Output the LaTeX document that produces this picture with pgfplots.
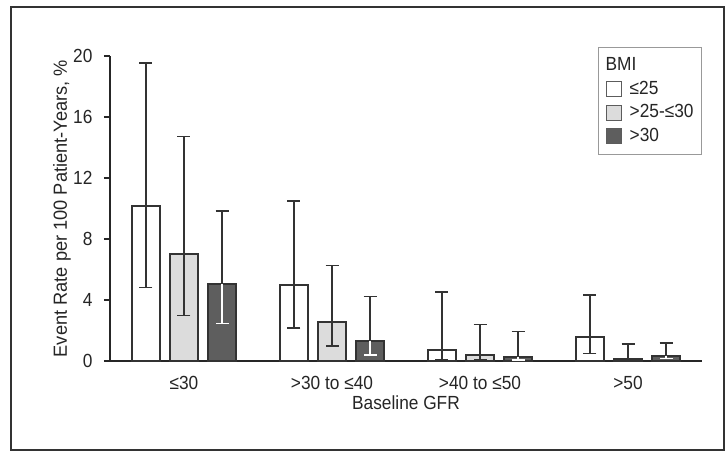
\documentclass[border=0pt]{standalone}
\usepackage{pgfplots}
\pgfplotsset{compat=1.18}
\usepackage{pgfplotstable}
\usepackage{fontspec}
\setmainfont{Liberation Sans}[FakeStretch=0.91]
\newfontfamily\ylabfont{Liberation Sans}[FakeStretch=0.96]
\definecolor{edge}{HTML}{333333}
\definecolor{lightbar}{HTML}{DCDCDC}
\definecolor{darkbar}{HTML}{5E5E5E}
\definecolor{txt}{HTML}{252525}
\definecolor{legframe}{HTML}{999999}

\pgfplotstableread{
x y ep em
-0.257 10.18 9.36 5.37
0.743 4.98 5.51 2.82
1.743 0.74 3.80 0.69
2.743 1.59 2.74 1.09
}\tabA
\pgfplotstableread{
x y ep em
0 7.00 7.71 4.03
1 2.54 3.71 1.54
2 0.37 2.03 0.32
3 0.15 0.96 0.12
}\tabB
\pgfplotstableread{
x y ep em
0.257 5.03 4.81 2.56
1.257 1.33 2.89 0.92
2.257 0.28 1.64 0.23
3.257 0.35 0.83 0.18
}\tabC

\pgfplotsset{
  mybar/.style={ybar, bar width=28pt, bar shift=0pt, draw=edge, line width=2pt,
    legend image code/.code={\draw[##1, line width=1pt, draw=edge!80] (0pt,-7.5pt) rectangle (15pt,7.5pt);}},
}

\begin{document}
\fontsize{19}{22}\selectfont
\begin{tikzpicture}
\useasboundingbox (-110pt,-90pt) rectangle (616pt,361pt);
\draw[line width=2pt, draw=black!80] (-99pt,-89pt) rectangle (614pt,354pt);
\begin{axis}[
  scale only axis,
  width=592pt, height=305pt,
  at={(0pt,0pt)}, anchor=south west,
  xmin=-0.5, xmax=3.5,
  ymin=0, ymax=20,
  axis x line=bottom, axis y line=left,
  axis line style={-, line width=2pt, draw=black!85},
  xtick={0,1,2,3},
  xticklabels={{≤30},{>30 to ≤40},{>40 to ≤50},{>50}},
  xtick style={draw=none},
  ytick={0,4,8,12,16,20},
  ytick style={line width=2pt, draw=black!85},
  tick align=outside,
  major tick length=6pt,
  /pgf/number format/assume math mode=true,
  tick label style={text=txt},
  xticklabel style={anchor=base, yshift=-22pt},
  yticklabel style={xshift=-5pt},
  every axis y label/.style={at={(rel axis cs:0,0.5)}, xshift=-48pt, rotate=90, anchor=center, text=txt, font=\ylabfont},
  every axis x label/.style={at={(rel axis cs:0.5,0)}, yshift=-48pt, anchor=base, text=txt},
  ylabel={Event Rate per 100 Patient-Years, \%},
  xlabel={Baseline GFR},
  legend style={at={(rel axis cs:1,1.031)}, anchor=north east, draw=legframe, line width=1pt,
    inner xsep=7pt, inner ysep=9.5pt, row sep=5.5pt, column sep=7pt, text=txt,
    nodes={inner sep=1pt}, cells={anchor=west}},
]
\addlegendimage{empty legend}
\addlegendentry{\hspace{-24pt}BMI}
\addplot[mybar, fill=white, error bars/.cd, y dir=both, y explicit,
  error bar style={line width=1.5pt, draw=edge},
  error mark options={rotate=90, mark size=6.5pt, line width=1.5pt, draw=edge}]
  table[x=x, y=y, y error plus=ep, y error minus=em]{\tabA};
\addlegendentry{≤25}
\addplot[mybar, fill=lightbar, error bars/.cd, y dir=both, y explicit,
  error bar style={line width=1.5pt, draw=edge},
  error mark options={rotate=90, mark size=6.5pt, line width=1.5pt, draw=edge}]
  table[x=x, y=y, y error plus=ep, y error minus=em]{\tabB};
\addlegendentry{>25-≤30}
\addplot[mybar, fill=darkbar, error bars/.cd, y dir=plus, y explicit,
  error bar style={line width=1.5pt, draw=edge},
  error mark options={rotate=90, mark size=6.5pt, line width=1.5pt, draw=edge}]
  table[x=x, y=y, y error plus=ep, y error minus=em]{\tabC};
\addlegendentry{>30}
\addplot[forget plot, ybar, bar width=28pt, bar shift=0pt, draw=none, fill=none,
  error bars/.cd, y dir=minus, y explicit,
  error bar style={line width=1.5pt, draw=white},
  error mark options={rotate=90, mark size=6.5pt, line width=1.5pt, draw=white}]
  table[x=x, y=y, y error plus=ep, y error minus=em]{\tabC};
\end{axis}
\end{tikzpicture}
\end{document}
